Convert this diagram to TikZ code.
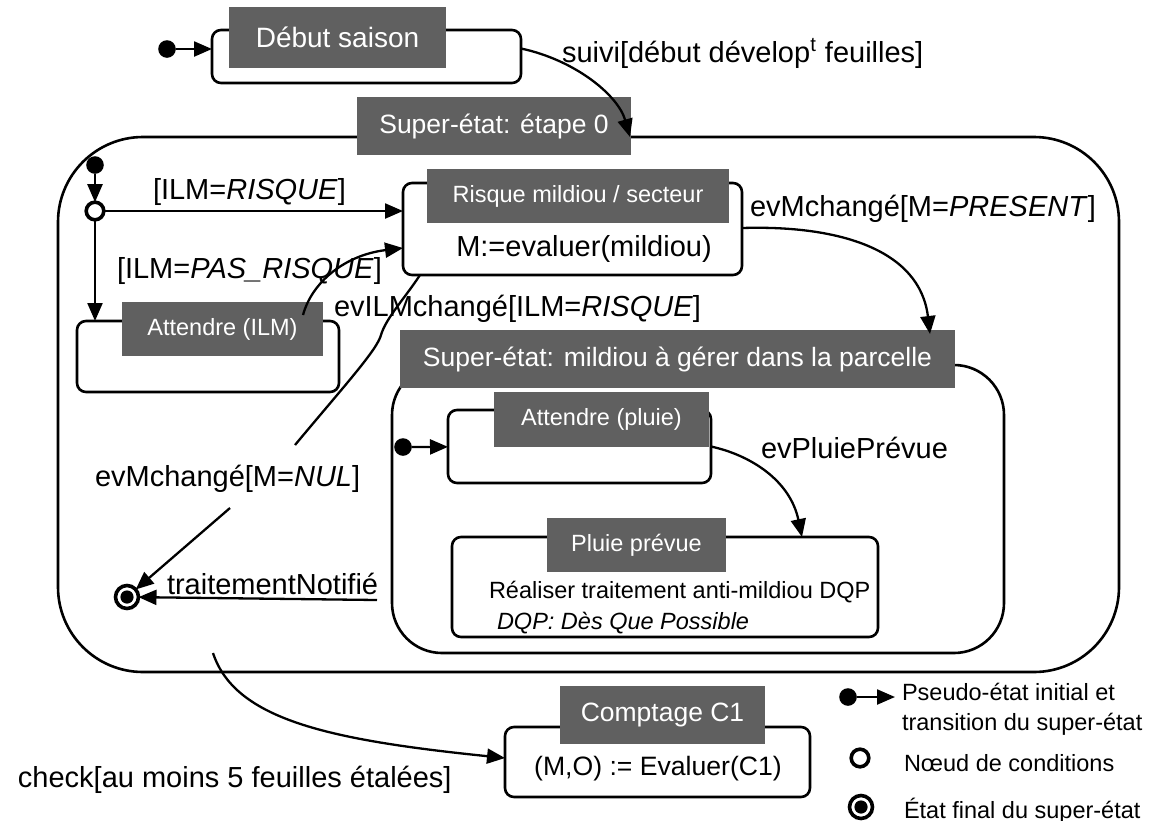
\documentclass[tikz,border=0pt]{standalone}
\usepackage{fontspec}
\setmainfont{Liberation Sans}
\usetikzlibrary{arrows.meta,fit,calc}
\definecolor{titlegray}{RGB}{96,96,96}
\begin{document}
\begin{tikzpicture}[x=0.5pt,y=-0.5pt,
  every node/.style={inner sep=0pt, outer sep=0pt},
  wire/.style={line width=1.15pt, -{Triangle[length=9pt,width=7.5pt]}},
  plainwire/.style={line width=1.15pt},
  statebox/.style={draw, line width=1.3pt, rounded corners=4.5pt, fill=white},
  superbox/.style={draw, line width=1.3pt, rounded corners=42.5pt},
  titlebox/.style={fill=titlegray},
  titlebig/.style={text=white, font=\fontsize{13.25pt}{15pt}\selectfont},
  titlesmall/.style={text=white, font=\fontsize{11.75pt}{14pt}\selectfont},
  lbl/.style={font=\fontsize{14.5pt}{17pt}\selectfont, anchor=base west},
  smalltxt/.style={font=\fontsize{11.75pt}{14pt}\selectfont, anchor=base west},
  inidot/.style={circle, fill=black, minimum size=8.8pt},
  choicept/.style={circle, draw, line width=1.8pt, fill=white, minimum size=8.8pt},
  finalpt/.style={circle, draw, line width=1.8pt, fill=white, minimum size=11.5pt},
  finaldot/.style={circle, fill=black, minimum size=6.6pt},
]
\fill[white] (0,0) rectangle (1162,820);
\useasboundingbox (0,0) rectangle (1162,820);

% ---------- season start ----------
\node[statebox, fit={(212,30) (521,83)}] (debut) {};
\node[titlebox, fit={(229,7) (446,68)}] (debutT) {};
\node[titlebig, font=\fontsize{14pt}{16pt}\selectfont] at (debutT.center) {Début saison};
\node[inidot] (ini1) at (167,49) {};
\draw[wire] (ini1) -- (ini1 -| debut.west);

% ---------- super-state: step 0 ----------
\node[superbox, fit={(58,137) (1119,672)}] (s0) {};
\node[titlebox, fit={(357,97) (631,155)}] (s0T) {};
\node[titlebig] at (s0T.center) {Super-état: étape 0};

\coordinate (s0in) at (630,137);
\draw[wire] ($(debut.east)+(0,-8)$) .. controls (575,60) and (618,95) .. (s0in);
\node[lbl] (suiviL) at (562,62) {suivi[début dévelop\textsuperscript{t} feuilles]};

\node[inidot] (ini0) at (95,165) {};
\node[choicept] (choice) at (95,211) {};
\draw[wire] (ini0) -- (choice);

% risk state
\node[statebox, fit={(403,183) (742,275)}] (risque) {};
\node[titlebox, fit={(427,169) (729,223)}] (risqueT) {};
\node[titlesmall] at (risqueT.center) {Risque mildiou / secteur};
\node[lbl, anchor=base] (risqueA) at (584,256) {M:=evaluer(mildiou)};

% waiting for ILM
\node[statebox, fit={(77,321) (339,392)}] (attILM) {};
\node[titlebox, fit={(122,302) (323,356)}] (attILMT) {};
\node[titlesmall] at (attILMT.center) {Attendre (ILM)};

\draw[wire] (choice) -- (choice -| risque.west);
\node[lbl] (l1) at (153,199) {[ILM=\textit{RISQUE}]};
\draw[wire] (choice) -- (choice |- attILM.north);
\node[lbl] (l2) at (117,278) {[ILM=\textit{PAS\_RISQUE}]};

\coordinate (ilmS) at (303,315);
\draw[wire] (ilmS) .. controls (312,282) and (345,255) .. ($(risque.west)+(0,19)$);
\node[lbl] (l3) at (334,316) {evILMchangé[ILM=\textit{RISQUE}]};

% ---------- super-state: mildew ----------
\node[superbox, rounded corners=25pt, fit={(392,365) (1004,653)}] (s1) {};
\node[titlebox, fit={(400,330) (955,388)}] (s1T) {};
\node[titlebig] at (s1T.center) {Super-état: mildiou à gérer dans la parcelle};

\coordinate (s1in) at (930,334);
\draw[wire] ($(risque.east)+(0,-1)$) .. controls (840,225) and (920,250) .. (s1in);
\node[lbl] (l4) at (750,216) {evMchangé[M=\textit{PRESENT}]};

\node[statebox, fit={(448,410) (711,483)}] (attPluie) {};
\node[titlebox, fit={(494,392) (709,447)}] (attPluieT) {};
\node[titlesmall] at (attPluieT.center) {Attendre (pluie)};
\node[inidot] (ini2) at (403,447) {};
\draw[wire] (ini2) -- (attPluie);

\node[statebox, fit={(452,537) (878,637)}] (pluie) {};
\node[titlebox, fit={(547,518) (726,572)}] (pluieT) {};
\node[titlesmall] at (pluieT.center) {Pluie prévue};
\node[smalltxt] (pluieA) at (489,598) {Réaliser traitement anti-mildiou DQP};
\node[smalltxt, font=\fontsize{11.75pt}{14pt}\selectfont\itshape] (pluieB) at (497,629) {DQP: Dès Que Possible};

\coordinate (plEnd) at (802,537);
\draw[wire] (attPluie.east) .. controls (750,455) and (790,480) .. (plEnd);
\node[lbl] (l5) at (761,458) {evPluiePrévue};

% ---------- final state and its transitions ----------
\node[finalpt] (final) at (127,597) {};
\node[finaldot] at (final.center) {};

\coordinate (nulA) at (295,445);
\coordinate (nulB) at (230,508);
\draw[plainwire] ($(risque.south west)+(17,0)$) .. controls (405,298) and (386,318) .. (381,335)
  .. controls (377,350) and (345,385) .. (nulA);
\node[lbl] (l6) at (95,486) {evMchangé[M=\textit{NUL}]};
\draw[wire] (nulB) -- (final);

\coordinate (tnS) at (377,600);
\draw[wire] (tnS) -- (final);
\node[lbl] (l7) at (167,594) {traitementNotifié};

% ---------- count C1 ----------
\node[statebox, fit={(505,727) (810,797)}] (comptage) {};
\node[titlebox, fit={(560,686) (765,744)}] (comptageT) {};
\node[titlebig] at (comptageT.center) {Comptage C1};
\node[lbl, font=\fontsize{13.3pt}{16pt}\selectfont, anchor=base] (comptageA) at (658,775) {(M,O) := Evaluer(C1)};

\coordinate (chkS) at (213,653);
\draw[wire] (chkS) .. controls (235,720) and (330,740) .. ($(comptage.west)+(0,-4)$);
\node[lbl] (l8) at (18,787) {check[au moins 5 feuilles étalées]};

% ---------- legend ----------
\node[inidot] (lgIni) at (848,697) {};
\coordinate (lgArr) at (895,697);
\draw[wire] (lgIni) -- (lgArr);
\node[smalltxt] (lg1) at (902,700) {Pseudo-état initial et};
\node[smalltxt] (lg2) at (902,730) {transition du super-état};
\node[choicept] (lgChoice) at (860,758) {};
\node[smalltxt] (lg3) at (904,771) {Nœud de conditions};
\node[finalpt] (lgFinal) at (861,807) {};
\node[finaldot] at (lgFinal.center) {};
\node[smalltxt] (lg4) at (904,818) {État final du super-état};
\end{tikzpicture}
\end{document}
